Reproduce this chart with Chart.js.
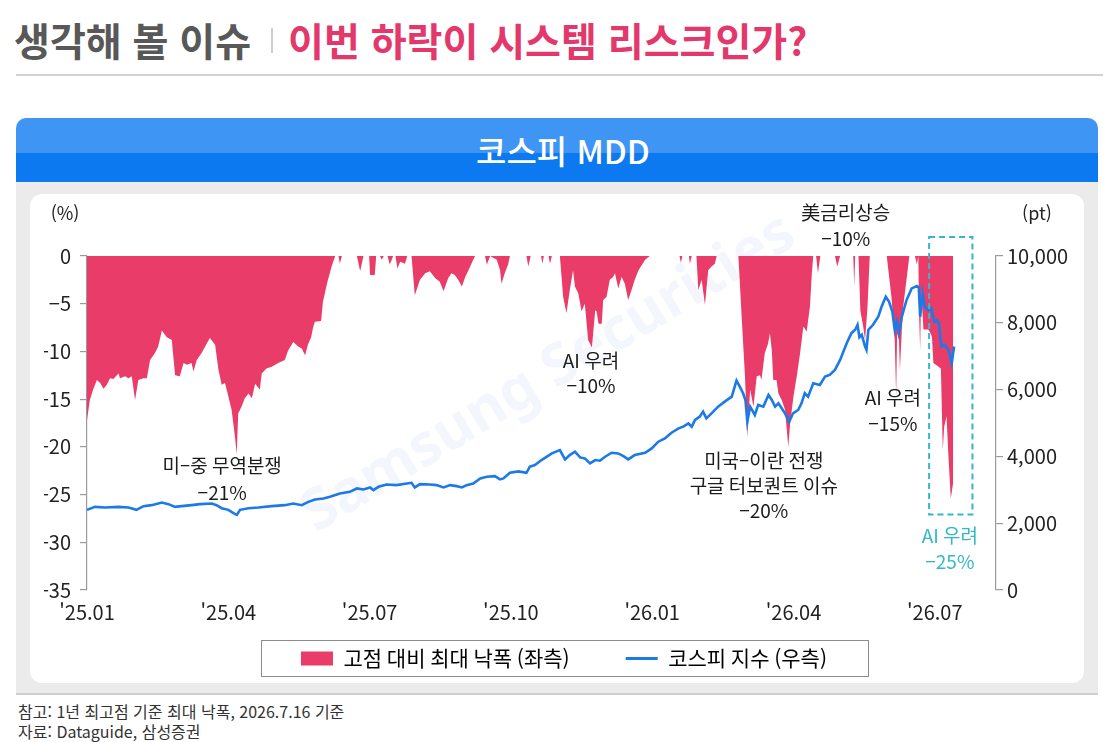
<!DOCTYPE html>
<html lang="ko">
<head>
<meta charset="utf-8">
<title>코스피 MDD</title>
<script src="https://cdn.jsdelivr.net/npm/chart.js@4.4.1/dist/chart.umd.min.js"></script>
<style>
  html, body { margin: 0; padding: 0; background: #fff; }
  body { width: 1103px; height: 742px; position: relative; overflow: hidden;
         font-family: 'Noto Sans CJK KR', 'Noto Sans', sans-serif; }
  .title { position: absolute; top: 20px; font-size: 39px; font-weight: 700; line-height: 39px; white-space: nowrap; }
  .title.gray { left: 14px; color: #585858; }
  .title.red { left: 288px; color: #e3386b; }
  .sep { position: absolute; left: 271px; top: 28px; width: 2px; height: 25px; background: #cfcfcf; }
  .rule { position: absolute; left: 16px; top: 74px; width: 1087px; height: 2px; background: #d2d2d2; }
  .banner { position: absolute; left: 16px; top: 118px; width: 1082px; height: 64px;
            border-radius: 10px 10px 0 0; overflow: hidden;
            background: linear-gradient(#3f95f4 0, #3f95f4 35px, #0c79f0 35px, #0c79f0 100%);
            color: #fff; font-size: 33px; font-weight: 500; line-height: 64px; text-align: center;
            box-sizing: border-box; padding-left: 12px; }
  .panel { position: absolute; left: 16px; top: 182px; width: 1082px; height: 511px;
           background: #ebebeb; border-bottom: 2px solid #cfcfcf; }
  .inner { position: absolute; left: 14px; top: 12px; width: 1054px; height: 489px;
           background: #fff; border-radius: 12px; }
  .note { position: absolute; left: 18px; font-size: 16px; line-height: 20px; color: #333; white-space: nowrap; }
</style>
</head>
<body>
<div class="title gray">생각해 볼 이슈</div>
<div class="sep"></div>
<div class="title red">이번 하락이 시스템 리스크인가?</div>
<div class="rule"></div>
<div class="banner">코스피 MDD</div>
<div class="panel">
  <div class="inner"><canvas id="mdd-chart"></canvas></div>
</div>
<div class="note" style="top:701px">참고: 1년 최고점 기준 최대 낙폭, 2026.7.16 기준</div>
<div class="note" style="top:721px">자료: Dataguide, 삼성증권</div>

<script>
// x values are months since 2025.01 (0 = '25.01, 18 = '26.07)
const tickMonths = [0, 3, 6, 9, 12, 15, 18];
const tickLabels = ["'25.01", "'25.04", "'25.07", "'25.10", "'26.01", "'26.04", "'26.07"];
const legendNames = ['고점 대비 최대 낙폭 (좌측)', '코스피 지수 (우측)'];

// drawdown from 1y high, % (left axis)
const mddMonths = [
  0.00, 0.06, 0.13, 0.21, 0.28, 0.35, 0.42, 0.49, 0.56, 0.67, 0.70, 0.81, 0.88, 0.95, 1.02, 1.09,
  1.20, 1.27, 1.34, 1.44, 1.51, 1.59, 1.69, 1.80, 1.87, 1.97, 2.05, 2.12, 2.22, 2.26, 2.33, 2.43,
  2.54, 2.61, 2.72, 2.79, 2.86, 2.93, 3.00, 3.07, 3.14, 3.18, 3.21, 3.28, 3.35, 3.43, 3.50, 3.57,
  3.67, 3.71, 3.81, 3.92, 4.06, 4.20, 4.27, 4.38, 4.49, 4.56, 4.63, 4.69, 4.76, 4.80, 4.84, 4.97,
  5.01, 5.10, 5.20, 5.27, 5.34, 5.37, 5.41, 5.73, 5.80, 5.87, 5.99, 6.01, 6.11, 6.14, 6.22, 6.26,
  6.30, 6.38, 6.43, 6.50, 6.55, 6.59, 6.65, 6.75, 6.80, 6.89, 6.96, 7.07, 7.18, 7.28, 7.39, 7.49,
  7.57, 7.67, 7.74, 7.81, 7.88, 7.96, 8.03, 8.10, 8.20, 8.24, 8.45, 8.49, 8.56, 8.70, 8.77, 8.80,
  8.87, 8.94, 8.98, 9.33, 9.37, 9.42, 9.64, 9.67, 9.70, 9.80, 9.83, 9.87, 10.04, 10.11, 10.18, 10.25,
  10.32, 10.36, 10.43, 10.50, 10.57, 10.64, 10.72, 10.79, 10.82, 10.86, 10.93, 10.96, 11.03, 11.10, 11.17, 11.21,
  11.28, 11.35, 11.42, 11.49, 11.56, 11.63, 11.71, 11.85, 11.95, 12.58, 12.61, 12.64, 12.78, 12.80, 12.84, 12.94,
  12.98, 13.05, 13.12, 13.19, 13.26, 13.33, 13.37, 13.83, 13.90, 13.97, 14.02, 14.08, 14.15, 14.22, 14.29, 14.32,
  14.39, 14.46, 14.50, 14.54, 14.57, 14.64, 14.68, 14.75, 14.82, 14.89, 14.93, 15.00, 15.07, 15.14, 15.21, 15.28,
  15.35, 15.39, 15.42, 15.48, 15.52, 15.57, 15.88, 15.93, 15.99, 16.27, 16.29, 16.31, 16.38, 16.42, 16.48, 16.52,
  16.57, 16.62, 16.98, 17.08, 17.15, 17.18, 17.20, 17.24, 17.26, 17.30, 17.33, 17.40, 17.46, 17.58, 17.62, 17.65,
  17.67, 17.69, 17.71, 17.76, 17.86, 17.91, 17.94, 17.97, 18.08, 18.13, 18.17, 18.20, 18.25, 18.29, 18.34, 18.39
];
const mddValues = [
  -17.2, -15.1, -14.0, -13.0, -13.3, -13.9, -13.5, -12.8, -12.9, -12.3, -12.8, -12.6, -12.8, -12.6, -15.1, -13.0,
  -12.8, -12.8, -10.9, -10.2, -9.5, -7.8, -8.5, -8.8, -12.5, -12.6, -11.2, -11.4, -11.2, -12.1, -10.9, -10.2,
  -9.2, -8.6, -9.3, -11.9, -13.5, -13.3, -14.7, -16.1, -18.9, -20.8, -16.5, -15.8, -14.9, -14.4, -14.9, -13.4,
  -14.0, -12.3, -11.8, -11.6, -11.2, -10.9, -9.9, -9.0, -9.5, -9.7, -10.4, -9.3, -8.5, -7.5, -6.9, -6.8,
  -4.8, -2.8, -1.0, 0, 0, -0.8, 0, 0, -1.6, 0, 0, -2.0, -2.0, 0, 0, -0.4,
  0, 0, -0.9, 0, 0, -1.3, -0.6, -0.8, 0, 0, -4.1, -2.5, -1.8, -1.6, -2.3, -2.7,
  -3.7, -2.3, -1.8, -2.0, -2.5, -3.2, -2.2, -1.5, -0.4, 0, 0, -0.9, 0, -0.4, -1.5, -2.9,
  -1.8, -0.9, 0, 0, -1.1, 0, 0, -0.8, 0, 0, -0.8, 0, 0, -4.3, -6.0, -3.6,
  -1.5, -3.2, -3.9, -5.8, -5.0, -8.8, -9.6, -5.7, -5.8, -7.1, -7.1, -4.6, -4.3, -2.5, -2.2, -1.8,
  -3.4, -2.2, -2.9, -4.6, -3.6, -2.5, -1.5, -0.4, 0, 0, -0.7, 0, 0, -0.8, 0, 0,
  -3.6, -2.5, -5.1, -1.5, -1.1, -0.8, 0, 0, -6.4, -12.6, -19.0, -14.0, -15.8, -12.6, -12.5, -13.0,
  -10.2, -9.2, -8.1, -9.9, -13.0, -13.0, -14.4, -15.1, -16.1, -20.0, -17.5, -14.7, -12.6, -10.2, -7.4, -7.9,
  -5.3, -1.8, 0, 0, -1.8, 0, 0, -1.1, 0, 0, -3.2, 0, 0, -5.7, -7.4, -8.8,
  -5.5, 0, 0, -4.3, -8.8, -14.8, -8.1, -8.8, -12.0, -7.8, -5.3, -2.5, 0, 0, -0.9, 0,
  -6.6, -9.9, -3.5, -7.7, -7.7, -8.1, -8.5, -11.2, -11.6, -11.8, -20.3, -17.9, -16.8, -21.0, -25.4, -23.8
];

// KOSPI index, pt (right axis)
const kospiMonths = [
  0.00, 0.17, 0.38, 0.67, 0.88, 1.05, 1.20, 1.37, 1.59, 1.73, 1.87, 2.01, 2.22, 2.40, 2.65, 2.75,
  2.86, 3.00, 3.11, 3.18, 3.25, 3.43, 3.64, 3.92, 4.20, 4.38, 4.56, 4.70, 4.84, 5.02, 5.16, 5.37,
  5.58, 5.73, 5.87, 6.01, 6.08, 6.19, 6.36, 6.57, 6.79, 6.89, 6.96, 7.07, 7.28, 7.42, 7.57, 7.71,
  7.85, 7.96, 8.06, 8.20, 8.35, 8.49, 8.66, 8.77, 8.84, 8.98, 9.16, 9.33, 9.40, 9.51, 9.65, 9.87,
  10.04, 10.15, 10.25, 10.36, 10.47, 10.57, 10.68, 10.79, 10.89, 11.00, 11.14, 11.28, 11.39, 11.49, 11.63, 11.85,
  11.99, 12.13, 12.27, 12.41, 12.56, 12.66, 12.77, 12.84, 12.91, 13.01, 13.08, 13.15, 13.26, 13.40, 13.54, 13.69,
  13.79, 13.86, 13.93, 13.98, 14.02, 14.08, 14.18, 14.25, 14.36, 14.47, 14.54, 14.61, 14.68, 14.75, 14.82, 14.91,
  14.99, 15.10, 15.17, 15.24, 15.31, 15.42, 15.56, 15.67, 15.77, 15.88, 15.99, 16.13, 16.23, 16.31, 16.36, 16.40,
  16.45, 16.52, 16.55, 16.59, 16.69, 16.80, 16.87, 16.96, 17.03, 17.10, 17.15, 17.19, 17.24, 17.30, 17.40, 17.51,
  17.62, 17.66, 17.69, 17.74, 17.79, 17.86, 17.93, 17.99, 18.04, 18.09, 18.14, 18.21, 18.29, 18.36, 18.41
];
const kospiValues = [
  2400, 2490, 2470, 2490, 2470, 2400, 2510, 2540, 2620, 2570, 2490, 2510, 2540, 2570, 2590, 2540,
  2450, 2400, 2300, 2250, 2400, 2450, 2470, 2510, 2540, 2590, 2540, 2640, 2710, 2740, 2790, 2890,
  2940, 3040, 3010, 3070, 2990, 3090, 3160, 3140, 3190, 3210, 3070, 3170, 3160, 3140, 3070, 3140,
  3110, 3070, 3140, 3190, 3340, 3390, 3410, 3310, 3340, 3510, 3550, 3510, 3690, 3740, 3890, 4090,
  4190, 3910, 4040, 4140, 3970, 3940, 3790, 3890, 3870, 3990, 4110, 4090, 4010, 3910, 4040, 4110,
  4240, 4440, 4540, 4710, 4840, 4890, 4990, 4890, 5090, 5190, 5340, 5140, 5290, 5490, 5640, 5790,
  6270, 6090, 5890, 5690, 5040, 5490, 5240, 5540, 5490, 5840, 5690, 5490, 5590, 5440, 5290, 5040,
  5290, 5390, 5590, 5890, 5790, 6190, 6140, 6390, 6440, 6590, 6890, 7390, 7690, 7790, 7940, 7570,
  7640, 7290, 7190, 7790, 7940, 8180, 8480, 8780, 8630, 8330, 7790, 8030, 7690, 8180, 8680, 9030,
  9100, 9060, 8180, 8880, 8480, 8380, 8430, 8030, 8080, 7980, 7290, 7340, 7190, 6790, 7290
];

const RED = '#ea3c68';
const BLUE = '#1c79e8';
const CYAN = '#33b7cb';
const INK = '#1c1c1c';
const AXIS = '#9a9a9a';

Chart.defaults.font.family = "'Noto Sans CJK KR', 'Noto Sans', sans-serif";
Chart.defaults.color = '#222';

const mddPoints = mddMonths.map((m, i) => ({ x: m, y: mddValues[i] }));
const kospiPoints = kospiMonths.map((m, i) => ({ x: m, y: kospiValues[i] }));

// event call-outs, placed in (month, left-axis %) coordinates
const notes = [
  { x: 2.87, y: [-22.0, -24.8], lines: ['미–중 무역분쟁', '−21%'], color: INK },
  { x: 10.70, y: [-11.0, -13.6], lines: ['AI 우려', '−10%'], color: INK },
  { x: 16.11, y: [4.5, 1.8], lines: ['美금리상승', '−10%'], color: INK },
  { x: 14.37, y: [-21.5, -24.1, -26.7], lines: ['미국–이란 전쟁', '구글 터보퀀트 이슈', '−20%'], color: INK },
  { x: 17.11, y: [-14.9, -17.6], lines: ['AI 우려', '−15%'], color: INK },
  { x: 18.32, y: [-29.3, -32.0], lines: ['AI 우려', '−25%'], color: CYAN }
];
const focusBox = { x0: 17.88, x1: 18.80, y0: 2.0, y1: -27.1 };

const notesPlugin = {
  id: 'notes',
  beforeDatasetsDraw(chart) {
    const { ctx, chartArea } = chart;
    ctx.save();
    ctx.translate(chartArea.left + 462, chartArea.top + 118);
    ctx.rotate(-31 * Math.PI / 180);
    ctx.font = "bold 58px 'Noto Sans', sans-serif";
    ctx.fillStyle = 'rgba(215, 228, 250, 0.3)';
    ctx.textAlign = 'center';
    ctx.textBaseline = 'middle';
    ctx.fillText('Samsung Securities', 0, 0);
    ctx.restore();
  },
  afterDatasetsDraw(chart) {
    const { ctx, chartArea } = chart;
    const x = chart.scales.x;
    const y = chart.scales.y;
    ctx.save();
    ctx.font = "19px 'Noto Sans CJK KR', sans-serif";
    ctx.textAlign = 'center';
    ctx.textBaseline = 'middle';
    notes.forEach(n => {
      ctx.fillStyle = n.color;
      n.lines.forEach((t, i) => ctx.fillText(t, x.getPixelForValue(n.x), y.getPixelForValue(n.y[i])));
    });

    const bx0 = x.getPixelForValue(focusBox.x0);
    const bx1 = x.getPixelForValue(focusBox.x1);
    const by0 = y.getPixelForValue(focusBox.y0);
    const by1 = y.getPixelForValue(focusBox.y1);
    ctx.strokeStyle = CYAN;
    ctx.lineWidth = 2;
    ctx.setLineDash([6, 4]);
    ctx.strokeRect(bx0, by0, bx1 - bx0, by1 - by0);
    ctx.setLineDash([]);

    ctx.fillStyle = '#222';
    ctx.font = "18px 'Noto Sans CJK KR', sans-serif";
    ctx.fillText('(%)', chartArea.left - 22, chartArea.top - 43);
    ctx.fillText('(pt)', chartArea.right + 41, chartArea.top - 43);
    ctx.restore();
  },
  afterDraw(chart) {
    const hb = chart.legend.legendHitBoxes;
    if (!hb || hb.length < 2) return;
    const { ctx } = chart;
    const mid = (hb[0].left + hb[1].left + hb[1].width) / 2;
    const top = hb[0].top - 8;
    const bottom = hb[0].top + hb[0].height + 7;
    ctx.save();
    ctx.strokeStyle = '#8c8c8c';
    ctx.lineWidth = 1;
    ctx.strokeRect(Math.round(mid - 303) + 0.5, top + 0.5, 607, bottom - top);
    ctx.restore();
  }
};

const axisGrid = { drawOnChartArea: false, drawTicks: true, tickLength: 7, color: AXIS, lineWidth: 1.2 };
const axisBorder = { display: true, color: AXIS, width: 1.2 };

const ctxMdd = document.getElementById('mdd-chart').getContext('2d');
const mddChart = new Chart(ctxMdd, {
  type: 'line',
  data: {
    datasets: [{
      label: legendNames[0],
      data: mddPoints,
      yAxisID: 'y',
      order: 2,
      fill: 'origin',
      backgroundColor: RED,
      borderColor: 'rgba(0, 0, 0, 0)',
      borderWidth: 0,
      pointRadius: 0,
      tension: 0
    }, {
      label: legendNames[1],
      data: kospiPoints,
      yAxisID: 'y1',
      order: 1,
      fill: false,
      borderColor: BLUE,
      borderWidth: 2.6,
      pointRadius: 0,
      tension: 0
    }]
  },
  options: {
    responsive: true,
    maintainAspectRatio: false,
    animation: false,
    layout: { padding: { top: 62, left: 14, right: 0, bottom: 4 } },
    scales: {
      x: {
        type: 'linear',
        min: 0,
        max: 19.3,
        grid: { display: false, drawTicks: false },
        border: { display: false },
        afterBuildTicks: s => { s.ticks = tickMonths.map(v => ({ value: v })); },
        ticks: {
          padding: 10,
          autoSkip: false,
          maxRotation: 0,
          font: { size: 20 },
          callback: (v, i) => tickLabels[i]
        }
      },
      y: {
        position: 'left',
        min: -35,
        max: 0,
        grid: axisGrid,
        border: axisBorder,
        afterFit: s => { s.width = 43; },
        ticks: {
          stepSize: 5,
          padding: 9,
          font: { size: 20 },
          callback: v => (v === 0 ? '0' : '−' + Math.abs(v))
        }
      },
      y1: {
        position: 'right',
        min: 0,
        max: 10000,
        grid: axisGrid,
        border: axisBorder,
        afterFit: s => { s.width = 88; },
        ticks: {
          stepSize: 2000,
          padding: 4,
          font: { size: 20 },
          callback: v => v.toLocaleString('en-US')
        }
      }
    },
    plugins: {
      tooltip: { enabled: false },
      legend: {
        position: 'bottom',
        labels: {
          usePointStyle: true,
          pointStyleWidth: 32,
          boxWidth: 32,
          boxHeight: 14,
          padding: 14,
          color: '#2a2a2a',
          font: { size: 21 },
          // two ideographic spaces widen the gap between the two entries
          generateLabels: () => [
            { text: legendNames[0] + '\u3000\u3000', fillStyle: RED, strokeStyle: RED, lineWidth: 0, pointStyle: 'rect', datasetIndex: 0 },
            { text: legendNames[1], fillStyle: BLUE, strokeStyle: BLUE, lineWidth: 3, pointStyle: 'line', datasetIndex: 1 }
          ]
        }
      }
    }
  },
  plugins: [notesPlugin]
});
</script>
</body>
</html>
